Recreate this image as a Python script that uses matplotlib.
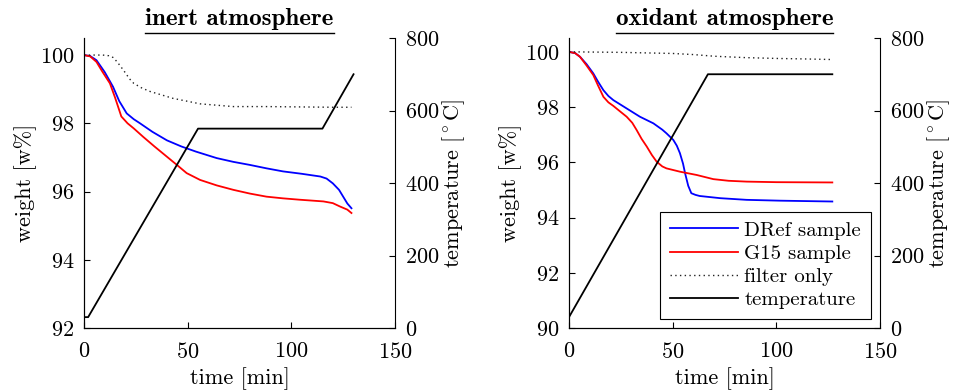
import matplotlib
matplotlib.use('Agg')
import matplotlib.pyplot as plt
from matplotlib.lines import Line2D
import numpy as np

plt.rcParams['font.family'] = 'serif'
plt.rcParams['font.serif'] = ['cmr10']
plt.rcParams['mathtext.fontset'] = 'cm'
plt.rcParams['axes.unicode_minus'] = False
plt.rcParams['axes.formatter.use_mathtext'] = True
plt.rcParams['font.size'] = 16

# ---- inert atmosphere ----
inert_dref_t = [0, 3, 6, 10, 14, 17, 20.6, 24, 27, 33, 40, 47, 54, 64, 72, 80, 88, 96, 105, 114, 117, 120, 123, 125, 127, 129]
inert_dref_w = [100, 99.97, 99.85, 99.5, 99.07, 98.65, 98.29, 98.12, 98.0, 97.75, 97.5, 97.32, 97.17, 96.98, 96.87, 96.78, 96.68, 96.59, 96.52, 96.44, 96.38, 96.24, 96.05, 95.85, 95.65, 95.51]
inert_g15_t = [0, 3, 6, 9, 12.5, 15, 18, 21, 24, 28.6, 34, 40, 45, 49.5, 56, 64, 72, 80, 88, 96, 104, 115.5, 120, 123.5, 127, 129]
inert_g15_w = [100, 99.96, 99.8, 99.5, 99.17, 98.75, 98.2, 98.0, 97.85, 97.6, 97.32, 97.02, 96.77, 96.54, 96.34, 96.18, 96.05, 95.94, 95.85, 95.8, 95.76, 95.71, 95.66, 95.56, 95.47, 95.37]
inert_filter_t = [0, 9, 12, 14, 16, 19, 22, 24, 28, 32, 43, 56, 72, 88, 104, 120, 129]
inert_filter_w = [100, 100, 99.98, 99.93, 99.8, 99.56, 99.3, 99.17, 99.03, 98.93, 98.73, 98.57, 98.49, 98.49, 98.48, 98.47, 98.47]
inert_temp_t = [0, 2, 55, 115, 130]
inert_temp_c = [30, 30, 550, 550, 700]

# ---- oxidant atmosphere ----
ox_dref_t = [0, 3, 5.3, 8.5, 11.7, 14, 16.6, 19, 21.4, 27.8, 34.2, 40.7, 45, 47, 50.3, 52, 53.5, 55, 56, 57.5, 59, 61, 63, 73, 85.7, 101.8, 127]
ox_dref_w = [100, 99.95, 99.82, 99.55, 99.22, 98.92, 98.61, 98.4, 98.25, 97.95, 97.65, 97.41, 97.18, 97.05, 96.81, 96.6, 96.33, 95.95, 95.6, 95.15, 94.88, 94.82, 94.78, 94.7, 94.64, 94.61, 94.58]
ox_g15_t = [0, 3, 5.3, 8.5, 11.7, 14, 16.6, 19, 21.4, 24.5, 27.8, 30.5, 32.6, 35, 37.5, 40, 42.3, 45, 47, 53.5, 61.6, 69.6, 77, 85.7, 100, 127]
ox_g15_w = [100, 99.95, 99.82, 99.5, 99.16, 98.78, 98.37, 98.17, 98.04, 97.85, 97.65, 97.43, 97.17, 96.85, 96.57, 96.26, 96.02, 95.85, 95.78, 95.66, 95.54, 95.39, 95.33, 95.3, 95.28, 95.27]
ox_filter_t = [0, 25, 50, 60, 70, 85, 100, 115, 127]
ox_filter_w = [100, 99.98, 99.94, 99.9, 99.84, 99.79, 99.76, 99.74, 99.72]
ox_temp_t = [0, 67, 127]
ox_temp_c = [30, 700, 700]

panels = [
    ('inert atmosphere', (92, 100.5), np.arange(92, 101, 2),
     inert_dref_t, inert_dref_w, inert_g15_t, inert_g15_w,
     inert_filter_t, inert_filter_w, inert_temp_t, inert_temp_c),
    ('oxidant atmosphere', (90, 100.5), np.arange(90, 101, 2),
     ox_dref_t, ox_dref_w, ox_g15_t, ox_g15_w,
     ox_filter_t, ox_filter_w, ox_temp_t, ox_temp_c),
]

fig = plt.figure(figsize=(9.54, 3.92), dpi=100)
rects = [[84 / 954, 64 / 392, 311 / 954, 290 / 392],
         [569 / 954, 64 / 392, 311 / 954, 290 / 392]]

titles = []
for k, (titulo, ylim, yticks, dt, dw, gt, gw, ft, fw, tt, tc) in enumerate(panels):
    ax = fig.add_axes(rects[k])
    ax2 = ax.twinx()

    h1, = ax.plot(dt, dw, color='#0000ff', lw=1.3, label='DRef sample')
    h2, = ax.plot(gt, gw, color='#ff0000', lw=1.3, label='G15 sample')
    h3, = ax.plot(ft, fw, color='#222222', lw=1.0, ls=(0, (1, 2.4)), label='filter only')
    h4, = ax2.plot(tt, tc, color='k', lw=1.3, label='temperature')

    ax.set_xlim(0, 150)
    ax.set_xticks([0, 50, 100, 150])
    ax.set_ylim(*ylim)
    ax.set_yticks(yticks)
    ax2.set_ylim(0, 800)
    ax2.set_yticks([0, 200, 400, 600, 800])

    for a in (ax, ax2):
        a.spines['top'].set_visible(False)
        a.tick_params(direction='in', length=4.5, width=0.8, labelsize=16, pad=7)
    ax.spines['right'].set_visible(False)
    ax.tick_params(axis='x', pad=10)

    ax.set_xlabel('time [min]', fontsize=16, labelpad=4)
    ax.set_ylabel('weight [w%]', fontsize=16, labelpad=2)
    ax2.set_ylabel(r'temperature [$^\circ$C]', fontsize=16, labelpad=1)
    t = ax.set_title(titulo, fontsize=18, family='cmb10', pad=9)
    titles.append(t)

    if k == 1:
        leg = ax2.legend(handles=[h1, h2, h3, h4], loc='lower right',
                         fontsize=15, fancybox=False, edgecolor='k',
                         framealpha=1, handlelength=3.3, labelspacing=0.22,
                         borderaxespad=0.45, borderpad=0.45, handletextpad=0.3)
        leg.get_frame().set_linewidth(0.8)

# underline the titles
fig.canvas.draw()
renderer = fig.canvas.get_renderer()
for t in titles:
    bb = t.get_window_extent(renderer).transformed(fig.transFigure.inverted())
    y = bb.y0 - 2 / 392
    fig.add_artist(Line2D([bb.x0, bb.x1], [y, y], color='k', lw=1.0,
                          transform=fig.transFigure))

fig.savefig('out.png', dpi=100)
